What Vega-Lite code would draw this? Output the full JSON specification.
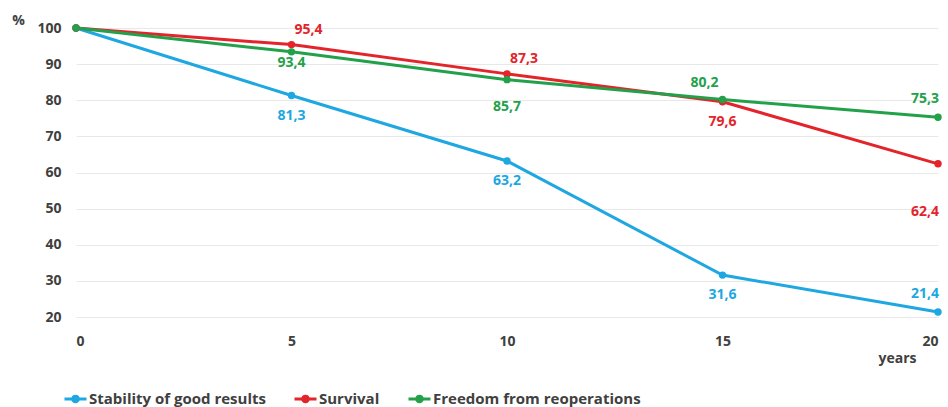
{
  "$schema": "https://vega.github.io/schema/vega-lite/v6.json",
  "autosize": {"type": "none"},
  "width": 862,
  "height": 289,
  "padding": {"left": 76, "top": 28, "right": 10, "bottom": 90},
  "background": "white",
  "config": {
    "view": {"stroke": null},
    "font": "Open Sans",
    "text": {"font": "Open Sans", "fontWeight": "bold", "fontSize": 14}
  },
  "data": {
    "values": [
      {"series": "Stability of good results", "year": 0, "value": 100},
      {"series": "Stability of good results", "year": 5, "value": 81.3},
      {"series": "Stability of good results", "year": 10, "value": 63.2},
      {"series": "Stability of good results", "year": 15, "value": 31.6},
      {"series": "Stability of good results", "year": 20, "value": 21.4},
      {"series": "Survival", "year": 0, "value": 100},
      {"series": "Survival", "year": 5, "value": 95.4},
      {"series": "Survival", "year": 10, "value": 87.3},
      {"series": "Survival", "year": 15, "value": 79.6},
      {"series": "Survival", "year": 20, "value": 62.4},
      {"series": "Freedom from reoperations", "year": 0, "value": 100},
      {"series": "Freedom from reoperations", "year": 5, "value": 93.4},
      {"series": "Freedom from reoperations", "year": 10, "value": 85.7},
      {"series": "Freedom from reoperations", "year": 15, "value": 80.2},
      {"series": "Freedom from reoperations", "year": 20, "value": 75.3}
    ]
  },
  "transform": [
    {"calculate": "replace(format(datum.value, '.1f'), '.', ',')", "as": "label"}
  ],
  "encoding": {
    "x": {
      "field": "year", "type": "quantitative",
      "scale": {"domain": [0, 20], "nice": false},
      "axis": {
        "values": [0, 5, 10, 15, 20], "grid": false, "domain": false, "ticks": false,
        "labelPadding": 17, "labelFontSize": 14, "labelFontWeight": "bold", "labelColor": "#404040", "labelFont": "Open Sans",
        "title": "years", "titleX": 821, "titleY": 41, "titleAlign": "center", "titleBaseline": "middle",
        "titleFontSize": 14, "titleFontWeight": "bold", "titleColor": "#404040", "titleFont": "Open Sans"
      }
    },
    "y": {
      "field": "value", "type": "quantitative",
      "scale": {"domain": [20, 100], "nice": false, "zero": false},
      "axis": {
        "values": [20, 30, 40, 50, 60, 70, 80, 90, 100], "grid": true, "gridColor": "#e8e8e8", "gridWidth": 1,
        "domain": false, "ticks": false, "labelPadding": 15,
        "labelFontSize": 14, "labelFontWeight": "bold", "labelColor": "#404040", "labelFont": "Open Sans",
        "title": "%", "titleAngle": 0, "titleX": -58, "titleY": -8, "titleAlign": "center", "titleBaseline": "middle",
        "titleFontSize": 14, "titleFontWeight": "bold", "titleColor": "#404040", "titleFont": "Open Sans"
      }
    },
    "color": {
      "field": "series", "type": "nominal",
      "scale": {
        "domain": ["Stability of good results", "Survival", "Freedom from reoperations"],
        "range": ["#1ea7e1", "#e3242b", "#22a14a"]
      },
      "legend": null
    }
  },
  "layer": [
    {
      "mark": {"type": "line", "strokeWidth": 3},
      "encoding": {
        "color": {
          "field": "series", "type": "nominal",
          "scale": {
            "domain": ["Stability of good results", "Survival", "Freedom from reoperations"],
            "range": ["#1ea7e1", "#e3242b", "#22a14a"]
          },
          "legend": {
            "title": null, "orient": "none", "direction": "horizontal",
            "legendX": -13, "legendY": 358,
            "symbolType": "M-1,0L1,0M0.25,0A0.25,0.25,0,1,1,-0.25,0A0.25,0.25,0,1,1,0.25,0Z",
            "symbolSize": 484, "symbolStrokeWidth": 3,
            "labelFontSize": 15, "labelFontWeight": "bold", "labelColor": "#404040", "labelFont": "Open Sans",
            "labelLimit": 400,
            "columnPadding": 22, "labelOffset": 1
          }
        }
      }
    },
    {"mark": {"type": "circle", "size": 55, "opacity": 1}},
    {
      "transform": [{"filter": "datum.series == 'Survival' && (datum.year == 5 || datum.year == 10)"}],
      "mark": {"type": "text", "dx": 17, "dy": -15},
      "encoding": {"text": {"field": "label"}}
    },
    {
      "transform": [{"filter": "(datum.series == 'Stability of good results' && datum.year >= 5 && datum.year <= 15) || (datum.series == 'Survival' && datum.year == 15)"}],
      "mark": {"type": "text", "dy": 20},
      "encoding": {"text": {"field": "label"}}
    },
    {
      "transform": [{"filter": "datum.series == 'Freedom from reoperations' && datum.year == 5"}],
      "mark": {"type": "text", "dy": 11},
      "encoding": {"text": {"field": "label"}}
    },
    {
      "transform": [{"filter": "datum.series == 'Freedom from reoperations' && datum.year == 10"}],
      "mark": {"type": "text", "dy": 27},
      "encoding": {"text": {"field": "label"}}
    },
    {
      "transform": [{"filter": "datum.series == 'Freedom from reoperations' && datum.year == 15"}],
      "mark": {"type": "text", "dx": -18, "dy": -17},
      "encoding": {"text": {"field": "label"}}
    },
    {
      "transform": [{"filter": "datum.year == 20 && datum.series != 'Survival'"}],
      "mark": {"type": "text", "dx": -13, "dy": -18},
      "encoding": {"text": {"field": "label"}}
    },
    {
      "transform": [{"filter": "datum.year == 20 && datum.series == 'Survival'"}],
      "mark": {"type": "text", "dx": -13, "dy": 48},
      "encoding": {"text": {"field": "label"}}
    }
  ]
}
